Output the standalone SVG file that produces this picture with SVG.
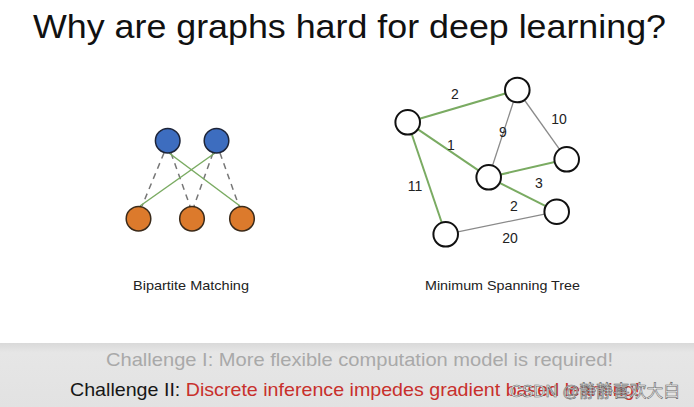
<svg xmlns="http://www.w3.org/2000/svg" width="694" height="407" viewBox="0 0 694 407">
<defs>
<linearGradient id="band" x1="0" y1="0" x2="0" y2="1">
<stop offset="0" stop-color="#d9d9d9"/>
<stop offset="0.15" stop-color="#e6e6e6"/>
<stop offset="1" stop-color="#e2e2e2"/>
</linearGradient>
</defs>
<style>
.t{font-family:"Liberation Sans",Arial,sans-serif}
.blue{fill:#3d6dbf;stroke:#1d2438;stroke-width:1.5}
.orange{fill:#dc7a2c;stroke:#3a2a1a;stroke-width:1.5}
.w{fill:#fff;stroke:#111;stroke-width:2}
.g{stroke:#7aab62;stroke-width:2;fill:none}
.gs{stroke:#7aab62;stroke-width:1.5;fill:none}
.gr{stroke:#8a8a8a;stroke-width:1.3;fill:none}
.d{stroke:#777;stroke-width:1.5;stroke-dasharray:6,5;fill:none}
.lbl{font-size:13.5px;fill:#222}
.num{font-size:14px;fill:#222}
</style>
<rect width="694" height="407" fill="#fff"/>
<text class="t" x="33" y="38" font-size="33.5" fill="#111" textLength="633" lengthAdjust="spacingAndGlyphs">Why are graphs hard for deep learning?</text>

<g id="connectors">
<line class="d" x1="164" y1="153" x2="142" y2="206"/>
<line class="d" x1="171" y1="153" x2="190" y2="206"/>
<line class="d" x1="213" y1="153" x2="194" y2="206"/>
<line class="d" x1="220" y1="153" x2="239" y2="206"/>
<line class="gs" x1="169" y1="153" x2="240" y2="206"/>
<line class="gs" x1="215" y1="153" x2="140" y2="206"/>

<line class="g" x1="407.7" y1="122.3" x2="517.3" y2="90"/>
<line class="gr" x1="517.3" y1="90" x2="488.7" y2="177.3"/>
<line class="gr" x1="517.3" y1="90" x2="566.7" y2="159.3"/>
<line class="g" x1="407.7" y1="122.3" x2="488.7" y2="177.3"/>
<line class="g" x1="488.7" y1="177.3" x2="566.7" y2="159.3"/>
<line class="g" x1="488.7" y1="177.3" x2="556.7" y2="211.7"/>
<line class="g" x1="407.7" y1="122.3" x2="445.7" y2="234.3"/>
<line class="gr" x1="445.7" y1="234.3" x2="556.7" y2="211.7"/>
</g>

<g id="bp-b1"><circle class="blue" cx="167.7" cy="140.7" r="12.3"/></g>
<g id="bp-b2"><circle class="blue" cx="216.5" cy="140.7" r="12.3"/></g>
<g id="bp-o1"><circle class="orange" cx="138.5" cy="218.7" r="12.3"/></g>
<g id="bp-o2"><circle class="orange" cx="192" cy="218.7" r="12.3"/></g>
<g id="bp-o3"><circle class="orange" cx="242" cy="218.7" r="12.3"/></g>

<g id="mst-a"><circle class="w" cx="407.7" cy="122.3" r="12.3"/></g>
<g id="mst-b"><circle class="w" cx="517.3" cy="90" r="12.3"/></g>
<g id="mst-c"><circle class="w" cx="566.7" cy="159.3" r="12.3"/></g>
<g id="mst-d"><circle class="w" cx="488.7" cy="177.3" r="12.3"/></g>
<g id="mst-e"><circle class="w" cx="556.7" cy="211.7" r="12.3"/></g>
<g id="mst-f"><circle class="w" cx="445.7" cy="234.3" r="12.3"/></g>

<g id="edge-labels" class="t num" text-anchor="middle">
<text x="455" y="99">2</text>
<text x="503" y="137">9</text>
<text x="559" y="124">10</text>
<text x="451" y="150">1</text>
<text x="539" y="188">3</text>
<text x="514" y="211">2</text>
<text x="415" y="191">11</text>
<text x="510" y="243">20</text>
</g>

<text class="t lbl" x="133" y="290" textLength="116" lengthAdjust="spacingAndGlyphs">Bipartite Matching</text>
<text class="t lbl" x="425" y="290" textLength="155" lengthAdjust="spacingAndGlyphs">Minimum Spanning Tree</text>

<rect x="0" y="343" width="694" height="64" fill="url(#band)"/>
<text class="t" x="106" y="366" font-size="18.5" fill="#a9a9a9" textLength="507" lengthAdjust="spacingAndGlyphs">Challenge I: More flexible computation model is required!</text>
<text class="t" x="70" y="396" font-size="18.5" fill="#161616" textLength="570" lengthAdjust="spacingAndGlyphs">Challenge II: <tspan fill="#c8302c">Discrete inference impedes gradient based learning!</tspan></text>
<text x="510" y="397" font-size="17" fill="#f4f4f4" stroke="#666" stroke-width="0.6" font-family="'Liberation Sans','Noto Sans CJK SC',sans-serif" textLength="170" lengthAdjust="spacingAndGlyphs">CSDN @静静喜欢大白</text>
</svg>
